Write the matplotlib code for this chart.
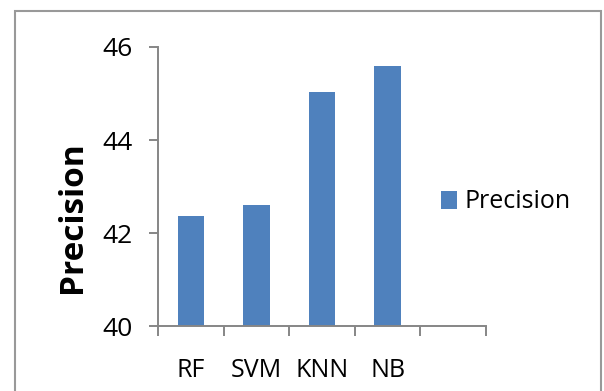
"""Bar chart of classifier precision."""

import matplotlib

matplotlib.use("Agg")

import matplotlib.pyplot as plt
from matplotlib.patches import Rectangle
from matplotlib.ticker import FixedLocator

plt.rcParams["font.family"] = ["Open Sans", "DejaVu Sans"]

# classifier names; the fifth slot on the axis is left empty
classifiers = ["RF", "SVM", "KNN", "NB"]
precision = [42.37, 42.6, 45.03, 45.6]
slot_count = 5
y_ticks = [40, 42, 44, 46]

bar_color = "#4F81BD"
axis_color = "#868686"

fig = plt.figure(figsize=(6.04, 3.91), dpi=100)
ax = fig.add_axes((0.2616, 0.1662, 0.543, 0.7136))

positions = list(range(len(classifiers)))
ax.bar(positions, precision, width=0.4, color=bar_color, label="Precision",
       zorder=2)

ax.set_xlim(-0.5, slot_count - 0.5)
ax.set_ylim(y_ticks[0], y_ticks[-1])

# category names sit between the boundary tick marks
ax.set_xticks(positions)
ax.set_xticklabels(classifiers)
ax.xaxis.set_minor_locator(FixedLocator([i - 0.5 for i in range(slot_count + 1)]))
ax.tick_params(axis="x", which="major", length=0, pad=23, labelsize=18)
ax.tick_params(axis="x", which="minor", length=7, width=1.4, color=axis_color,
               direction="out")

ax.set_yticks(y_ticks)
ax.tick_params(axis="y", length=6.5, width=1.4, color=axis_color, pad=12,
               labelsize=19)

for side in ("top", "right"):
    ax.spines[side].set_visible(False)
for side in ("left", "bottom"):
    ax.spines[side].set_color(axis_color)
    ax.spines[side].set_linewidth(1.4)

fig.text(72 / 604, 1 - 217 / 391, "Precision", rotation=90, fontsize=24,
         fontweight="bold", ha="center", va="center")

ax.legend(loc="center left", bbox_to_anchor=(441 / 604, 1 - 202 / 391),
          bbox_transform=fig.transFigure, frameon=False, fontsize=18,
          handlelength=0.65, handleheight=0.75, handletextpad=0.3,
          borderpad=0, borderaxespad=0)

# chart frame, open at the bottom edge
fig.patches.append(Rectangle((15 / 604, -0.05), 586 / 604, 1.05 - 11 / 391,
                             transform=fig.transFigure, fill=False,
                             edgecolor="#999999", linewidth=1.5))

fig.savefig("out.png", dpi=100)
